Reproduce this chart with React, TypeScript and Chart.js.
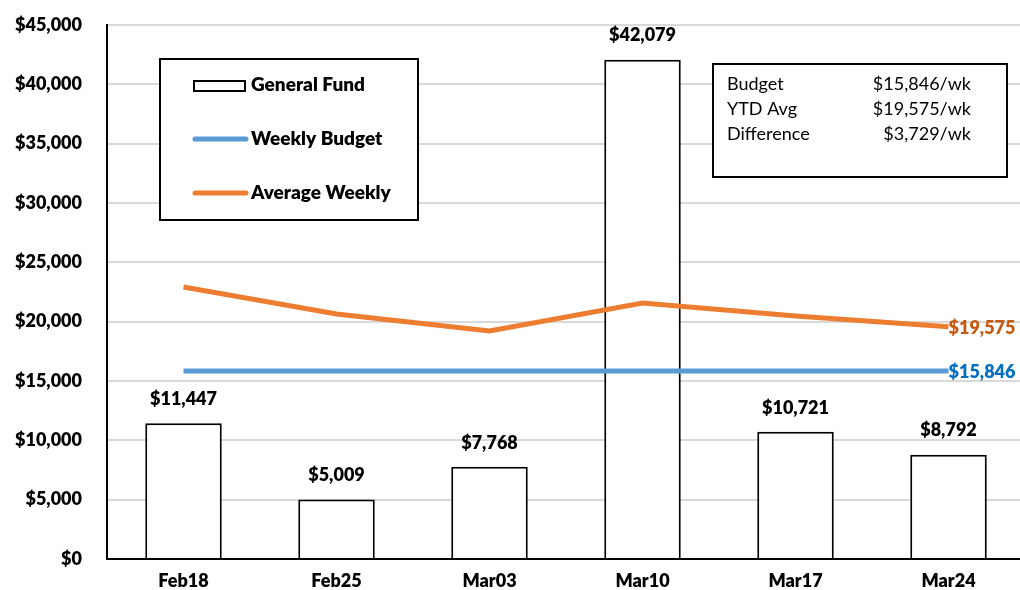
import React, { useEffect, useRef } from "react";
import { Chart, registerables } from "chart.js";

Chart.register(...registerables);

const categories = ["Feb18", "Feb25", "Mar03", "Mar10", "Mar17", "Mar24"];
const generalFund = [11447, 5009, 7768, 42079, 10721, 8792];
const weeklyBudget = [15846, 15846, 15846, 15846, 15846, 15846];
const averageWeekly = [22920, 20650, 19210, 21570, 20480, 19575];
const yTicks = [0, 5000, 10000, 15000, 20000, 25000, 30000, 35000, 40000, 45000];
const infoRows = [
  ["Budget", "$15,846/wk"],
  ["YTD Avg", "$19,575/wk"],
  ["Difference", "$3,729/wk"],
];

const FONT = "Lato, 'Open Sans', sans-serif";
const fmt = (v: number) => "$" + v.toLocaleString("en-US");

const overlayPlugin = {
  id: "overlay",
  afterDatasetsDraw(chart: any) {
    const ctx = chart.ctx;
    ctx.save();
    const barMeta = chart.getDatasetMeta(0);
    ctx.font = `800 18px ${FONT}`;
    ctx.fillStyle = "#000";
    ctx.textAlign = "center";
    ctx.textBaseline = "middle";
    barMeta.data.forEach((el: any, i: number) => {
      ctx.fillText(fmt(generalFund[i]), el.x, el.y - 24);
    });
    const bMeta = chart.getDatasetMeta(1);
    const aMeta = chart.getDatasetMeta(2);
    const bLast = bMeta.data[bMeta.data.length - 1];
    const aLast = aMeta.data[aMeta.data.length - 1];
    ctx.textAlign = "left";
    ctx.fillStyle = "#0070C0";
    ctx.fillText(fmt(weeklyBudget[weeklyBudget.length - 1]), bLast.x, bLast.y + 1);
    ctx.fillStyle = "#C55A11";
    ctx.fillText(fmt(averageWeekly[averageWeekly.length - 1]), aLast.x, aLast.y + 1);
    ctx.restore();
  },
  afterDraw(chart: any) {
    const ctx = chart.ctx;
    ctx.save();
    ctx.fillStyle = "#fff";
    ctx.fillRect(160, 59, 258, 161);
    ctx.strokeStyle = "#000";
    ctx.lineWidth = 2;
    ctx.strokeRect(160, 59, 258, 161);
    ctx.font = `800 19px ${FONT}`;
    ctx.textAlign = "left";
    ctx.textBaseline = "middle";
    ctx.fillStyle = "#fff";
    ctx.fillRect(194, 81, 51, 10);
    ctx.strokeStyle = "#000";
    ctx.lineWidth = 2;
    ctx.strokeRect(194, 81, 51, 10);
    ctx.fillStyle = "#000";
    ctx.fillText("General Fund", 251, 85);
    ctx.lineCap = "round";
    ctx.lineWidth = 5;
    ctx.strokeStyle = "#5B9BD5";
    ctx.beginPath();
    ctx.moveTo(195, 139);
    ctx.lineTo(246, 139);
    ctx.stroke();
    ctx.fillText("Weekly Budget", 251, 139);
    ctx.strokeStyle = "#ED7D31";
    ctx.beginPath();
    ctx.moveTo(195, 193);
    ctx.lineTo(246, 193);
    ctx.stroke();
    ctx.fillText("Average Weekly", 251, 193);

    ctx.fillStyle = "#fff";
    ctx.fillRect(713, 64, 294, 113);
    ctx.strokeStyle = "#000";
    ctx.lineWidth = 2;
    ctx.strokeRect(713, 64, 294, 113);
    ctx.font = `18px ${FONT}`;
    ctx.fillStyle = "#000";
    infoRows.forEach((row, i) => {
      const y = 84 + i * 25;
      ctx.textAlign = "left";
      ctx.fillText(row[0], 727, y);
      ctx.textAlign = "right";
      ctx.fillText(row[1], 971, y);
    });
    ctx.restore();
  },
};

export default function App() {
  const ref = useRef<HTMLCanvasElement>(null);
  useEffect(() => {
    if (!ref.current) return;
    const chart = new Chart(ref.current, {
      type: "bar",
      data: {
        labels: categories,
        datasets: [
          {
            type: "bar",
            label: "General Fund",
            data: generalFund,
            backgroundColor: "#fff",
            borderColor: "#000",
            borderWidth: 2,
            barPercentage: 0.5,
            categoryPercentage: 1,
            order: 2,
          },
          {
            type: "line",
            label: "Weekly Budget",
            data: weeklyBudget,
            borderColor: "#5B9BD5",
            borderWidth: 5,
            pointRadius: 0,
            tension: 0,
            order: 1,
          },
          {
            type: "line",
            label: "Average Weekly",
            data: averageWeekly,
            borderColor: "#ED7D31",
            borderWidth: 5,
            pointRadius: 0,
            tension: 0,
            order: 0,
          },
        ],
      } as any,
      options: {
        animation: false,
        responsive: false,
        devicePixelRatio: 1,
        layout: { padding: { top: 25, right: 0, left: 0, bottom: 0 } },
        plugins: {
          legend: { display: false },
          tooltip: { enabled: false },
        },
        scales: {
          x: {
            offset: true,
            grid: { display: false, drawTicks: false },
            border: { color: "#000", width: 2 },
            ticks: {
              color: "#000",
              font: { family: FONT, size: 18, weight: "800" },
              padding: 11,
              maxRotation: 0,
            },
            afterFit: (s: any) => {
              s.height = 31;
              s.paddingLeft = 0;
              s.paddingRight = 0;
            },
          },
          y: {
            min: 0,
            max: 45000,
            grid: { color: "#d9d9d9", lineWidth: 2, drawTicks: false },
            border: { color: "#000", width: 2 },
            afterBuildTicks: (s: any) => {
              s.ticks = yTicks.map((v) => ({ value: v }));
            },
            ticks: {
              color: "#000",
              font: { family: FONT, size: 18, weight: "800" },
              padding: 25,
              callback: (v: any) => fmt(Number(v)),
            },
            afterFit: (s: any) => {
              s.width = 107;
              s.paddingTop = 0;
              s.paddingBottom = 0;
            },
          },
        },
      } as any,
      plugins: [overlayPlugin],
    });
    return () => chart.destroy();
  }, []);
  return (
    <div
      style={{
        position: "absolute",
        left: 0,
        top: 0,
        width: 1020,
        height: 590,
        overflow: "hidden",
        background: "#fff",
      }}
    >
      <canvas ref={ref} width={1025} height={590} style={{ width: 1025, height: 590 }} />
    </div>
  );
}
